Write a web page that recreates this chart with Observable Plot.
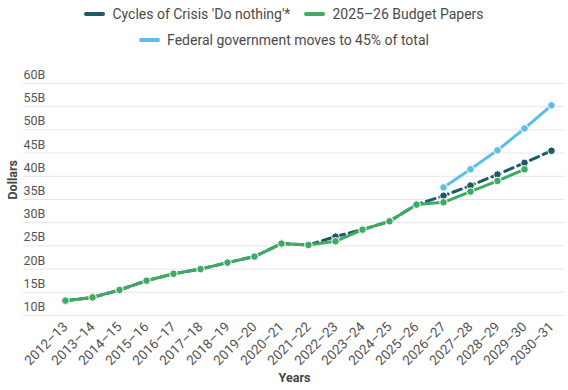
<!DOCTYPE html>
<html><head><meta charset="utf-8">
<script src="https://cdn.jsdelivr.net/npm/d3@7"></script>
<script src="https://cdn.jsdelivr.net/npm/@observablehq/plot@0.6"></script>
<style>
body{margin:0;background:#fff;font-family:Roboto,sans-serif;}
#legend{width:568px;height:56px;box-sizing:border-box;padding-top:1px;color:#4a4a4a;font-size:14px;}
.row{display:flex;justify-content:center;align-items:center;height:26px;}
.item{display:flex;align-items:center;margin:0 7px;}
.sw{width:21px;height:4px;border-radius:2px;margin-right:7px;}
</style></head><body>
<div id="legend"></div>
<div id="chart"></div>
<script>
const years = ["2012–13","2013–14","2014–15","2015–16","2016–17","2017–18","2018–19","2019–20","2020–21","2021–22","2022–23","2023–24","2024–25","2025–26","2026–27","2027–28","2028–29","2029–30","2030–31"];
const doNothing = [13.2,13.9,15.5,17.5,19.0,20.0,21.4,22.7,25.5,25.2,27.0,28.5,30.3,33.9,35.8,38.0,40.4,42.9,45.5];
const budgetPapers = [13.2,13.9,15.5,17.5,19.0,20.0,21.4,22.7,25.5,25.2,26.0,28.5,30.3,33.9,34.4,36.7,39.0,41.5,null];
const federal45 = [null,null,null,null,null,null,null,null,null,null,null,null,null,null,37.6,41.5,45.6,50.3,55.3];
const yTicks = [10,15,20,25,30,35,40,45,50,55,60];
const seriesNames = ["Cycles of Crisis 'Do nothing'*","2025–26 Budget Papers","Federal government moves to 45% of total"];
const colors = ["#1d5a67","#3eaa62","#5dbfe3"];

const toRows = (vals) => years.map((y,i)=>({year:y,value:vals[i]})).filter(d=>d.value!=null);
const dark = toRows(doNothing), green = toRows(budgetPapers), blue = toRows(federal45);

// legend
const legend = document.getElementById("legend");
const rowsDef = [[0,1],[2]];
for (const r of rowsDef) {
  const row = document.createElement("div"); row.className="row";
  for (const i of r) {
    const it = document.createElement("div"); it.className="item";
    const sw = document.createElement("span"); sw.className="sw"; sw.style.background=colors[i];
    const tx = document.createElement("span"); tx.textContent = seriesNames[i];
    it.appendChild(sw); it.appendChild(tx); row.appendChild(it);
  }
  legend.appendChild(row);
}

const plot = Plot.plot({
  width: 568, height: 334,
  marginLeft: 23, marginRight: 3, marginTop: 27, marginBottom: 75,
  x: {type:"point", domain: years, padding: 0, insetLeft: 41, insetRight: 13, label: null},
  y: {domain:[10,60], axis: null},
  style: {fontFamily:"Roboto, sans-serif", fontSize:"12px", color:"#555", background:"#fff"},
  marks: [
    Plot.ruleY(yTicks, {stroke:"#e6e6e6", strokeWidth:1}),
    Plot.text(yTicks, {y: d=>d, text: d=>d+"B", frameAnchor:"left", textAnchor:"start", dy:-8.5, fill:"#555", fontSize:12.5}),
    Plot.axisX({tickSize:0, tickRotate:-45, tickPadding:9, label:null, fontSize:13.5, fill:"#555"}),
    Plot.line(dark, {x:"year", y:"value", stroke:colors[0], strokeWidth:3, strokeDasharray:"9,5"}),
    Plot.dot(dark, {x:"year", y:"value", r:3.8, fill:colors[0], stroke:"white", strokeWidth:1}),
    Plot.line(green, {x:"year", y:"value", stroke:colors[1], strokeWidth:3}),
    Plot.dot(green, {x:"year", y:"value", r:3.8, fill:colors[1], stroke:"white", strokeWidth:1}),
    Plot.line(blue, {x:"year", y:"value", stroke:colors[2], strokeWidth:3}),
    Plot.dot(blue, {x:"year", y:"value", r:3.8, fill:colors[2], stroke:"white", strokeWidth:1}),
    Plot.text(["Dollars"], {text:d=>d, frameAnchor:"left", rotate:-90, dx:-11, fontWeight:"bold", fill:"#444", fontSize:12.5}),
    Plot.text(["Years"], {text:d=>d, frameAnchor:"bottom", dy:66, fontWeight:"bold", fill:"#444", fontSize:12.5})
  ]
});
document.getElementById("chart").appendChild(plot);
</script>
</body></html>
